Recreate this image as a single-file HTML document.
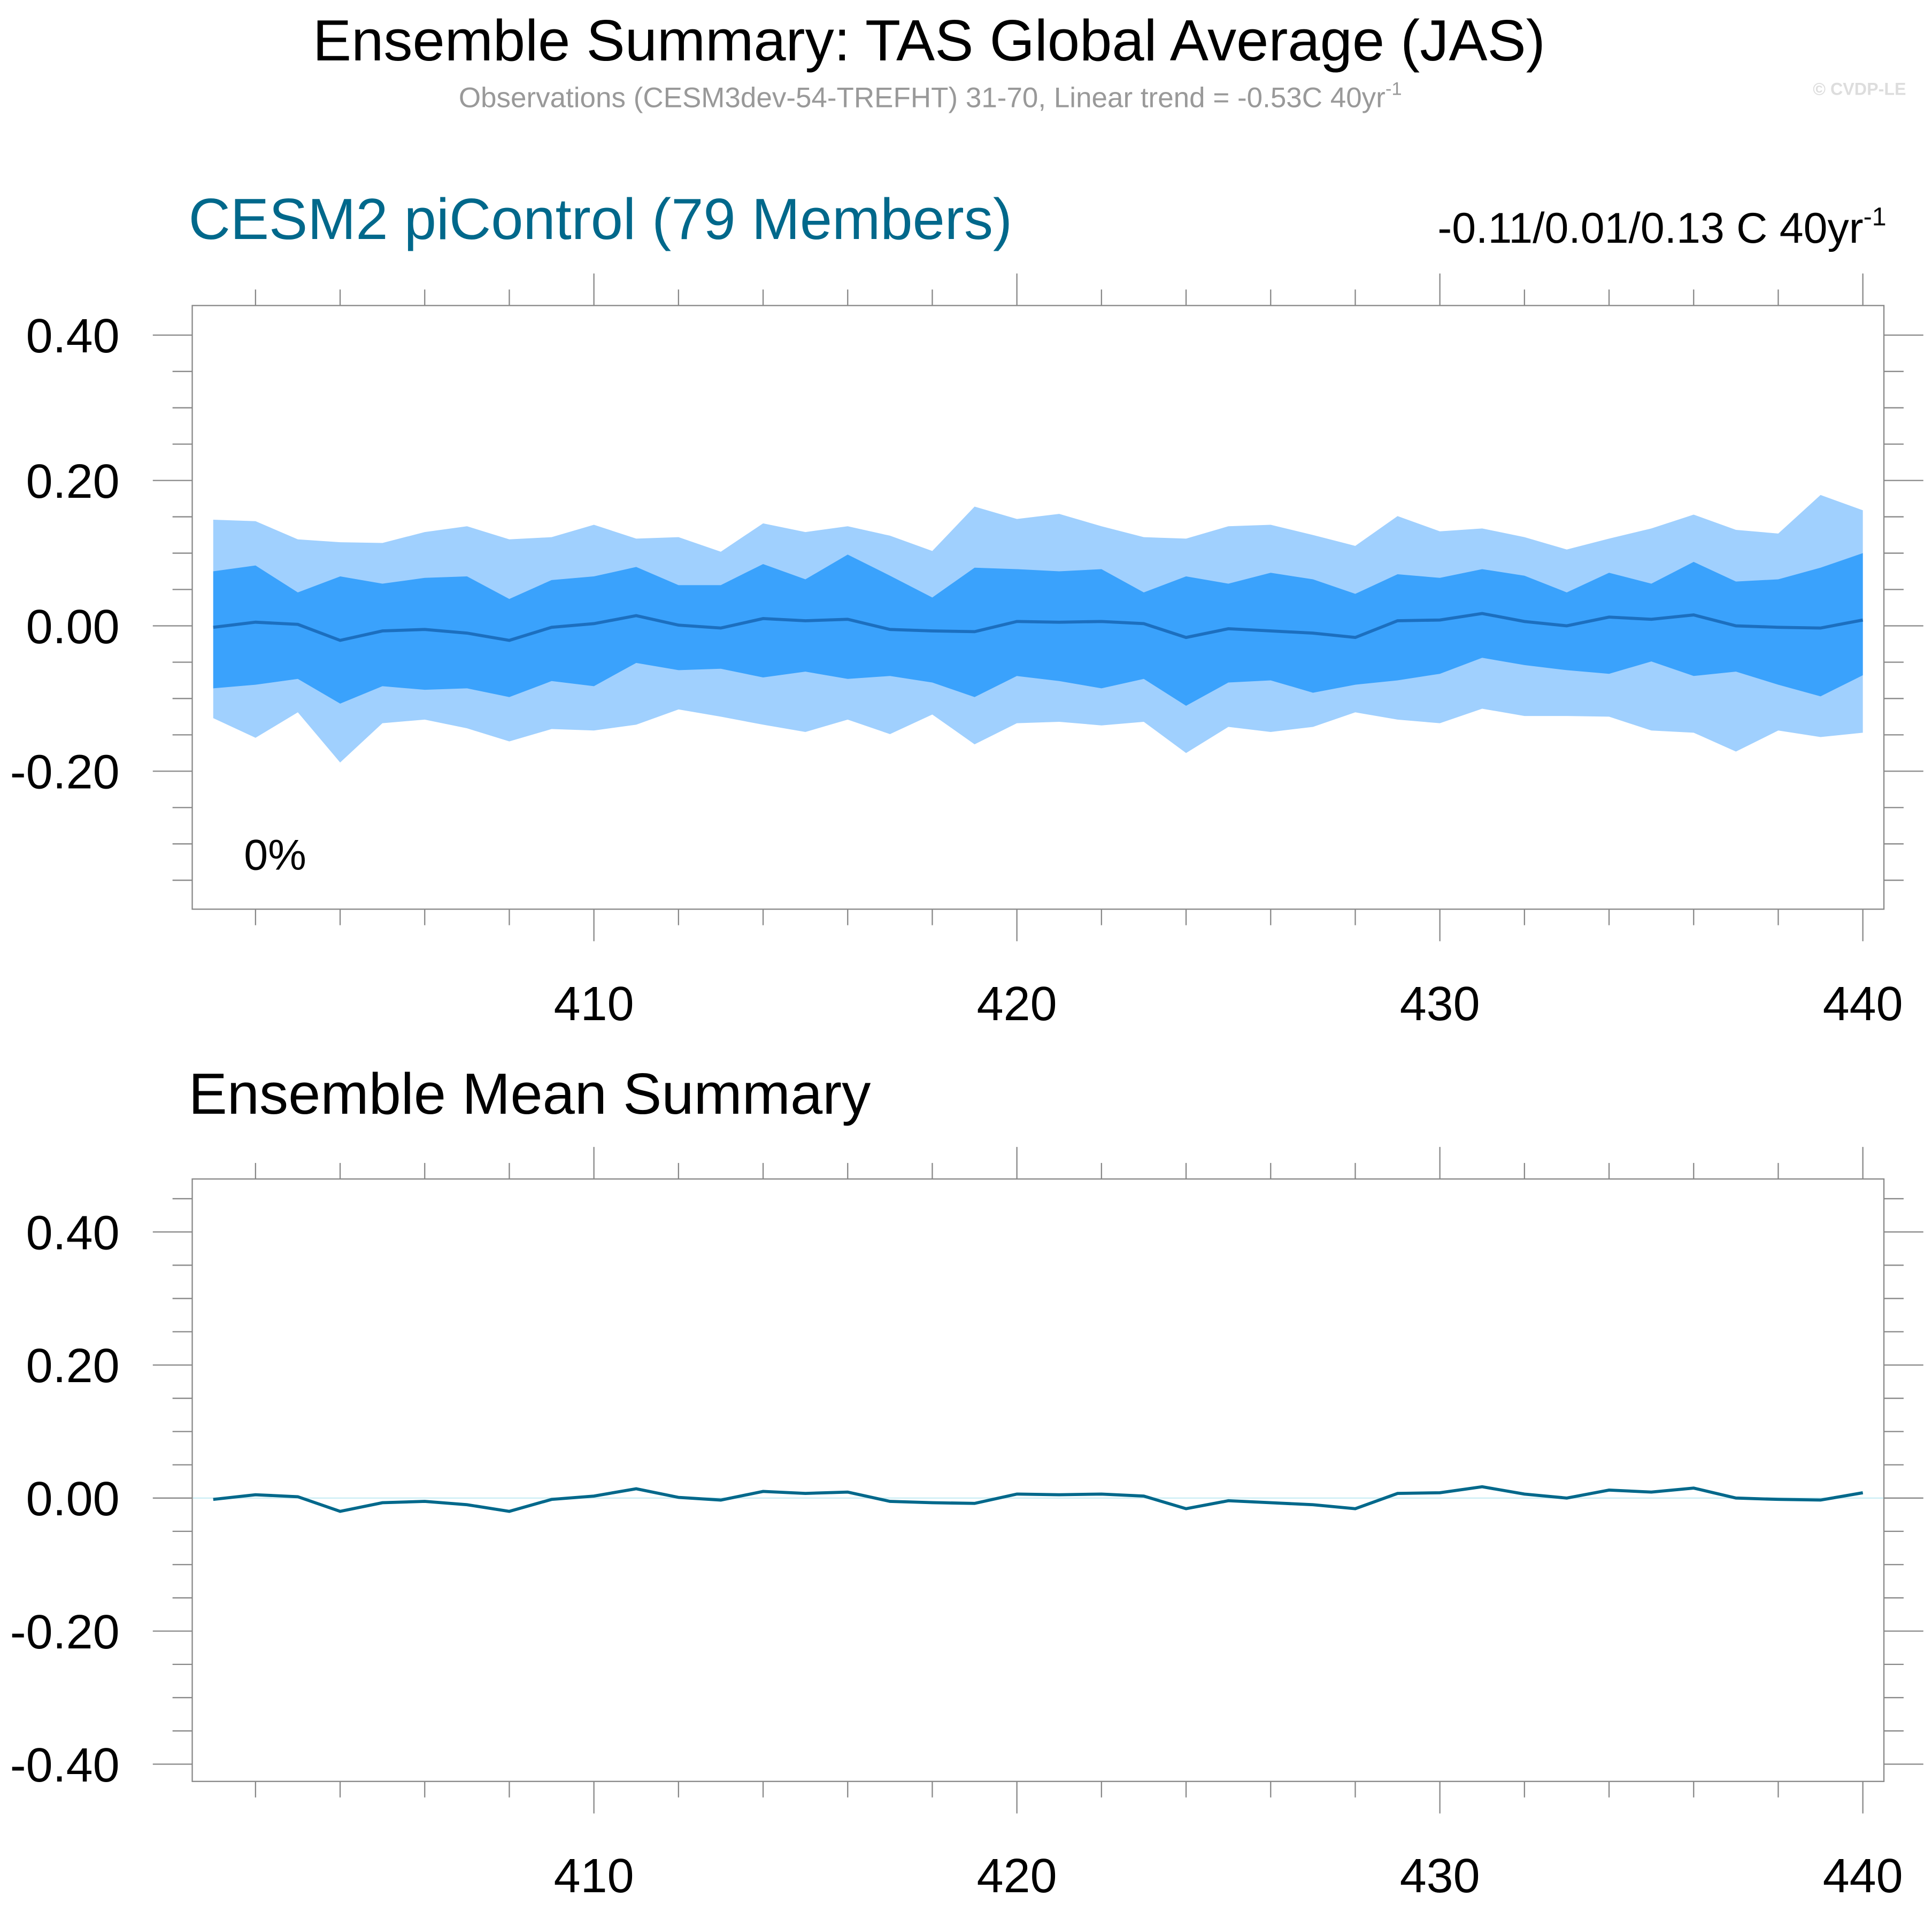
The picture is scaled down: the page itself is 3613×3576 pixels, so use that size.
<!DOCTYPE html>
<html><head><meta charset="utf-8"><style>
html,body{margin:0;padding:0;background:#fff}
svg{display:block}
text{font-family:"Liberation Sans",sans-serif}
</style></head><body>
<svg id="chart" width="3613" height="3576" viewBox="0 0 1568 1552" xmlns="http://www.w3.org/2000/svg">
<rect width="1568" height="1552" fill="#fff"/>
<text x="754" y="49" font-size="47" text-anchor="middle">Ensemble Summary: TAS Global Average (JAS)</text>
<text x="755" y="87" font-size="23" fill="#999" text-anchor="middle">Observations (CESM3dev-54-TREFHT) 31-70, Linear trend = -0.53C 40yr<tspan font-size="15" dy="-10">-1</tspan></text>
<text x="1547" y="77" font-size="14" fill="#ddd" font-weight="bold" text-anchor="end">© CVDP-LE</text>
<text x="153" y="194" font-size="47" fill="#00688b">CESM2 piControl (79 Members)</text>
<text x="1531" y="197" font-size="35" text-anchor="end">-0.11/0.01/0.13 C 40yr<tspan font-size="21" dy="-14">-1</tspan></text>
<text x="153" y="904" font-size="47">Ensemble Mean Summary</text>
<text x="198" y="706" font-size="35">0%</text>
<g id="top"></g>
<g id="bot"></g>
</svg>
<script>
const years=[];for(let y=401;y<=440;y++)years.push(y);
const meanVals=[-0.002,0.005,0.002,-0.02,-0.007,-0.005,-0.01,-0.02,-0.002,0.003,0.014,0.001,-0.003,0.01,0.007,0.009,-0.005,-0.007,-0.008,0.006,0.005,0.006,0.003,-0.016,-0.004,-0.007,-0.01,-0.016,0.007,0.008,0.017,0.006,0,0.012,0.009,0.015,0,-0.002,-0.003,0.008];
const outerUpper=[0.146,0.144,0.119,0.115,0.114,0.129,0.137,0.119,0.122,0.139,0.12,0.122,0.102,0.141,0.129,0.137,0.124,0.103,0.164,0.147,0.154,0.137,0.122,0.12,0.137,0.139,0.125,0.11,0.151,0.13,0.134,0.122,0.105,0.12,0.134,0.153,0.132,0.127,0.18,0.159];
const innerUpper=[0.075,0.083,0.046,0.068,0.058,0.066,0.068,0.037,0.063,0.068,0.081,0.056,0.056,0.085,0.064,0.098,0.069,0.039,0.08,0.078,0.075,0.078,0.046,0.068,0.058,0.073,0.064,0.044,0.071,0.066,0.078,0.069,0.046,0.073,0.058,0.088,0.061,0.064,0.08,0.1];
const innerLower=[-0.086,-0.081,-0.073,-0.107,-0.083,-0.088,-0.086,-0.098,-0.076,-0.083,-0.051,-0.061,-0.059,-0.071,-0.063,-0.073,-0.069,-0.078,-0.098,-0.069,-0.076,-0.086,-0.073,-0.11,-0.078,-0.075,-0.092,-0.081,-0.075,-0.066,-0.044,-0.054,-0.061,-0.066,-0.049,-0.069,-0.063,-0.081,-0.097,-0.068];
const outerLower=[-0.127,-0.154,-0.119,-0.188,-0.134,-0.129,-0.141,-0.159,-0.142,-0.144,-0.136,-0.115,-0.125,-0.136,-0.146,-0.129,-0.149,-0.122,-0.163,-0.134,-0.132,-0.137,-0.132,-0.175,-0.139,-0.146,-0.139,-0.119,-0.129,-0.134,-0.114,-0.124,-0.124,-0.125,-0.144,-0.147,-0.173,-0.144,-0.153,-0.147];
const xTicks=[410,420,430,440];
const topYTicks=[0.4,0.2,0,-0.2];
const botYTicks=[0.4,0.2,0,-0.4,-0.2];
const NS='http://www.w3.org/2000/svg';
const X0=156,X1=1529;
const sx=v=>482+(v-410)*34.33;
function mk(g,tag,attrs){const e=document.createElementNS(NS,tag);for(const k in attrs)e.setAttribute(k,attrs[k]);g.appendChild(e);return e;}
function axes(g,top,bot,sy,yt,yMin,yMax,pfx){
  const f=mk(g,'rect',{x:X0,y:top,width:X1-X0,height:bot-top,fill:'none',stroke:'#888','stroke-width':1});
  
  
  for(let yv=402;yv<=440;yv+=2){
    const x=sx(yv);const L=yv%10===0?26:13;
    mk(g,'line',{x1:x,x2:x,y1:top,y2:top-L,stroke:'#888'});
    mk(g,'line',{x1:x,x2:x,y1:bot,y2:bot+L,stroke:'#888'});
  }
  for(let v=Math.ceil(yMin/0.05)*0.05;v<=yMax;v+=0.05){
    const r=Math.round(v*100);const maj=r%20===0;const y=sy(v);const L=maj?32:16;
    mk(g,'line',{x1:X0,x2:X0-L,y1:y,y2:y,stroke:'#888'});
    mk(g,'line',{x1:X1,x2:X1+L,y1:y,y2:y,stroke:'#888'});
  }
  yt.forEach(v=>{const t=mk(g,'text',{x:97,y:sy(v)+14,'font-size':39,'text-anchor':'end'});t.textContent=v.toFixed(2);
    
    });
  xTicks.forEach(v=>{const t=mk(g,'text',{x:sx(v),y:bot+90,'font-size':39,'text-anchor':'middle'});t.textContent=v;
    
    });
}
function band(g,sy,up,lo,fill,name){
  let d='M'+years.map((y,i)=>sx(y)+','+sy(up[i])).join('L');
  for(let i=years.length-1;i>=0;i--)d+='L'+sx(years[i])+','+sy(lo[i]);
  const p=mk(g,'path',{d:d+'Z',fill:fill});
  
  
}
function line(g,sy,vals,col,w,name){
  const p=mk(g,'path',{d:'M'+years.map((y,i)=>sx(y)+','+sy(vals[i])).join('L'),fill:'none',stroke:col,'stroke-width':w});
  
  
}
const gt=document.getElementById('top');
const syT=v=>508-v*590;
band(gt,syT,outerUpper,outerLower,'#a0d0fe','outer-range-band');
band(gt,syT,innerUpper,innerLower,'#3aa2fc','inner-range-band');
line(gt,syT,meanVals,'#1c6fbf',2.5,'ensemble-mean-line-top');
axes(gt,248,738,syT,topYTicks,-0.39,0.44,'top');
const gb=document.getElementById('bot');
const syB=v=>1216-v*540;
const z=mk(gb,'line',{x1:X0,x2:X1,y1:syB(0),y2:syB(0),stroke:'#cceef4','stroke-width':1});


line(gb,syB,meanVals,'#00688b',2.5,'ensemble-mean-line-bottom');
axes(gb,957,1446,syB,botYTicks,-0.425,0.48,'bottom');
</script>
</body></html>
